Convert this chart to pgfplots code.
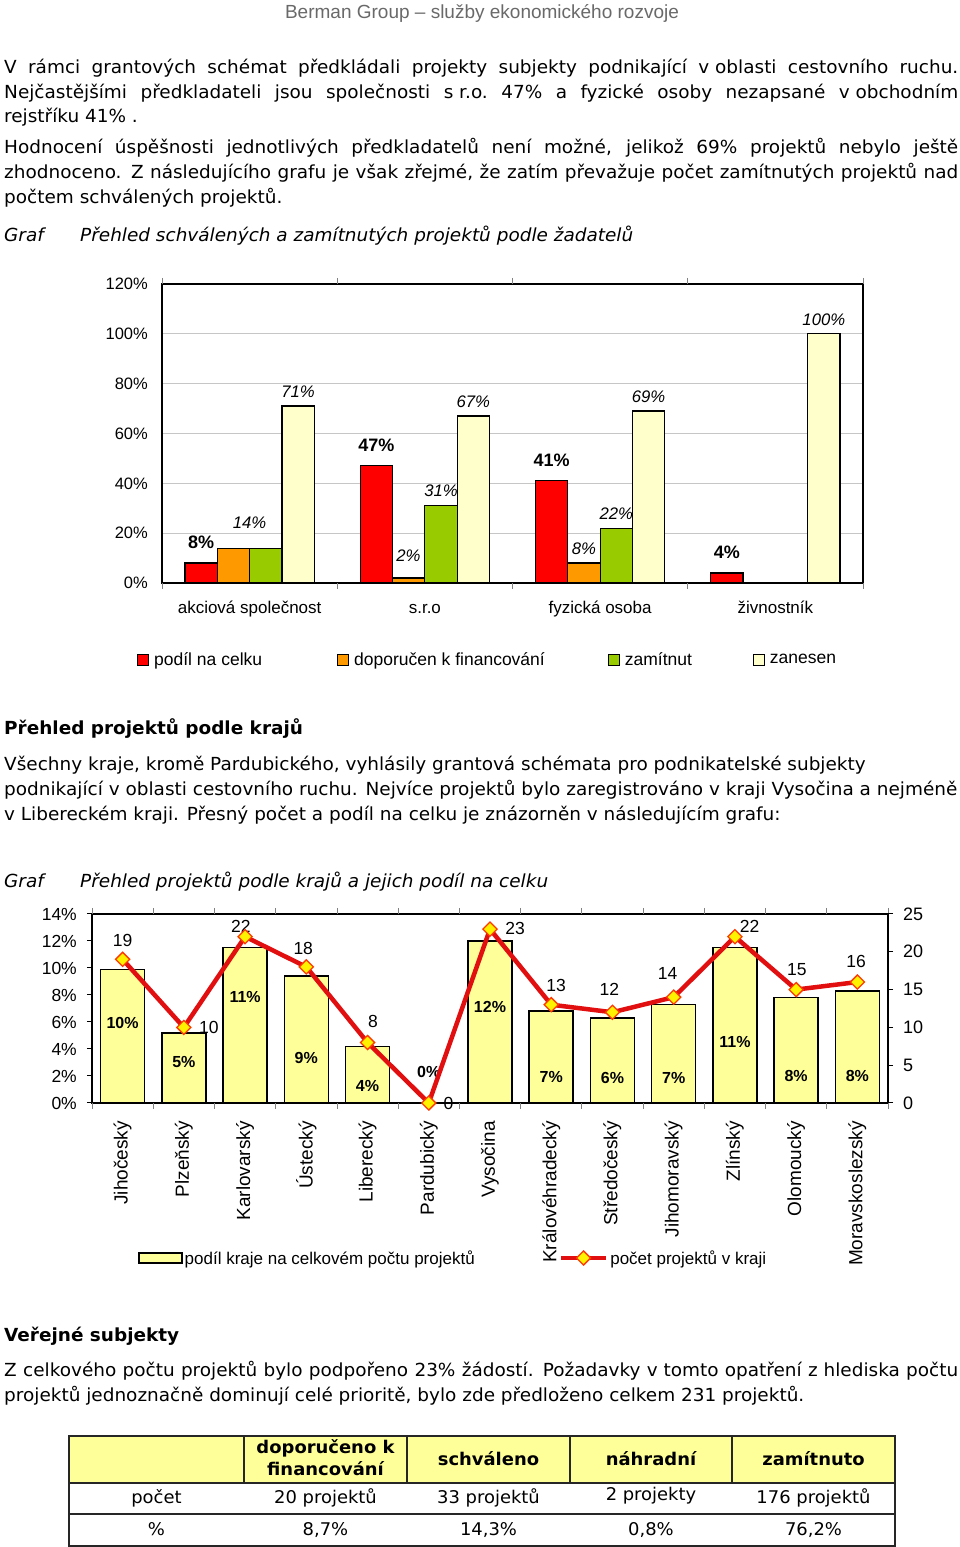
\documentclass[border=0pt]{standalone}
\usepackage{fontspec}
\setmainfont{DejaVu Sans}[FakeStretch=1.025]
\newfontfamily\arial{Liberation Sans}
\usepackage{pgfplots}
\pgfplotsset{compat=1.18}

\definecolor{cred}{RGB}{255,0,0}
\definecolor{corange}{RGB}{255,153,0}
\definecolor{cgreen}{RGB}{153,204,0}
\definecolor{ccream}{RGB}{255,255,204}
\definecolor{cyell}{RGB}{255,255,153}
\definecolor{cline}{RGB}{225,15,15}
\definecolor{hdrgray}{RGB}{105,105,105}

\newcommand\bodyfont{\fontsize{18}{25}\selectfont}
\newcommand\af[1]{\arial\fontsize{#1}{#1}\selectfont}

\pgfplotsset{
  sqleg/.style={legend image code/.code={\draw[##1, line width=1pt] (0pt,-5.5pt) rectangle (11pt,5.5pt);}},
  lineleg/.style={legend image code/.code={\draw[mark repeat=2, mark phase=2, ##1] plot coordinates {(0pt,0pt) (22.5pt,0pt) (45pt,0pt)};}},
  barleg/.style={legend image code/.code={\draw[fill=cyell, draw=black, line width=1.5pt] (0pt,-5pt) rectangle (43pt,5pt);}},
}

\begin{document}
\begin{tikzpicture}[x=1pt,y=1pt]
\path[use as bounding box] (0,0) rectangle (960,1547);
\tikzset{bl/.style={anchor=base west, inner sep=0pt, font=\bodyfont}}

% page header
\node[anchor=base, inner sep=0pt, text=hdrgray, font=\af{19}] at (482,1528) {Berman Group – služby ekonomického rozvoje};

% first text block
\node[bl] at (4,1473) {\makebox[954pt][s]{V rámci grantových schémat předkládali projekty subjekty podnikající \mbox{v oblasti} cestovního ruchu.}};
\node[bl] at (4,1448) {\makebox[954pt][s]{Nejčastějšími předkladateli jsou společnosti \mbox{s r.o.} 47\% a fyzické osoby nezapsané \mbox{v obchodním}}};
\node[bl] at (4,1424) {rejstříku 41\% .};
\node[bl] at (4,1393) {\makebox[954pt][s]{Hodnocení úspěšnosti jednotlivých předkladatelů není možné, jelikož 69\% projektů nebylo ještě}};
\node[bl] at (4,1368) {\makebox[954pt][s]{zhodnoceno. Z následujícího grafu je však zřejmé, že zatím převažuje počet zamítnutých projektů nad}};
\node[bl] at (4,1343) {počtem schválených projektů.};
\node[bl, font=\bodyfont\itshape] at (4,1305) {Graf};
\node[bl, font=\bodyfont\itshape] at (80,1305) {Přehled schválených a zamítnutých projektů podle žadatelů};

% chart 1
\begin{axis}[
  at={(162pt,964pt)}, anchor=south west, scale only axis,
  width=701pt, height=299pt,
  ybar=0pt, bar width=32.3pt,
  xmin=-0.5, xmax=3.5, ymin=0, ymax=120,
  xtick={0,1,2,3},
  xticklabels={akciová společnost,s.r.o,fyzická osoba,živnostník},
  xtick style={draw=none},
  xticklabel style={font=\af{17}, anchor=base, inner sep=0pt},
  xticklabel shift=26pt,
  extra x ticks={-0.5,0.5,1.5,2.5,3.5},
  extra x tick labels={},
  extra x tick style={grid=none, tick align=outside, major tick length=6pt, xtick style={draw=gray, line width=0.8pt}},
  ytick={0,20,...,120},
  yticklabels={0\%,20\%,40\%,60\%,80\%,100\%,120\%},
  yticklabel style={font=\af{16.5}, inner sep=0pt},
  yticklabel shift=14pt,
  ytick style={draw=none},
  ymajorgrids, grid style={draw=gray!45, line width=0.8pt},
  axis line style={line width=1.6pt},
  clip=false,
  point meta=explicit symbolic,
  nodes near coords,
  legend columns=4,
  legend style={at={(-0.0357,-0.2575)}, anchor=west, draw=none, fill=none, inner sep=0pt,
    font=\af{17.5},
    /tikz/every odd column/.append style={column sep=3pt},
    /tikz/column 2/.style={column sep=73pt},
    /tikz/column 4/.style={column sep=61pt},
    /tikz/column 6/.style={column sep=59pt}},
]
\addplot[fill=cred, draw=black, line width=1.2pt, sqleg,
  every node near coord/.append style={font=\af{18}\bfseries, inner sep=0pt, yshift=14pt}]
  coordinates {(0,8) [8\%] (1,47) [47\%] (2,41) [41\%] (3,4) [4\%]};
\addlegendentry{podíl na celku}
\addplot[fill=corange, draw=black, line width=1.2pt, sqleg,
  every node near coord/.append style={font=\af{16.7}\itshape, inner sep=0pt, yshift=8pt}]
  coordinates {(0,14) [\phantom{0}] (1,2) [\phantom{0}] (2,8) [8\%]};
\addlegendentry{doporučen k financování}
\addplot[fill=cgreen, draw=black, line width=1.2pt, sqleg,
  every node near coord/.append style={font=\af{16.7}\itshape, inner sep=0pt, yshift=8pt}]
  coordinates {(0,14) [\phantom{0}] (1,31) [31\%] (2,22) [22\%]};
\addlegendentry{zamítnut}
\addplot[fill=ccream, draw=black, line width=1.2pt, sqleg,
  every node near coord/.append style={font=\af{16.7}\itshape, inner sep=0pt, yshift=8pt}]
  coordinates {(0,71) [71\%] (1,67) [67\%] (2,69) [69\%] (3,100) [100\%]};
\addlegendentry{zanesen}
\node[font=\af{16.7}\itshape, anchor=south, inner sep=0pt, yshift=19pt] at (axis cs:0,14) {14\%};
\node[font=\af{16.7}\itshape, anchor=south, inner sep=0pt, yshift=16pt, xshift=-16.5pt] at (axis cs:1,2) {2\%};
\end{axis}

% second text block
\node[bl, font=\bodyfont\bfseries] at (4,812) {Přehled projektů podle krajů};
\node[bl] at (4,776) {Všechny kraje, kromě Pardubického, vyhlásily grantová schémata pro podnikatelské subjekty};
\node[bl] at (4,751) {podnikající \mbox{v oblasti} cestovního ruchu. Nejvíce projektů bylo zaregistrováno \mbox{v kraji} Vysočina a nejméně};
\node[bl] at (4,726) {\mbox{v Libereckém} kraji. Přesný počet a podíl na celku je znázorněn \mbox{v následujícím} grafu:};
\node[bl, font=\bodyfont\itshape] at (4,659) {Graf};
\node[bl, font=\bodyfont\itshape] at (80,659) {Přehled projektů podle krajů a jejich podíl na celku};

% chart 2, bars (left axis)
\begin{axis}[
  at={(92pt,444pt)}, anchor=south west, scale only axis,
  width=796pt, height=189pt,
  ybar, bar width=44pt,
  xmin=-0.5, xmax=12.5, ymin=0, ymax=14,
  xtick={0,...,12},
  xticklabels={Jihočeský,Plzeňský,Karlovarský,Ústecký,Liberecký,Pardubický,Vysočina,Královéhradecký,Středočeský,Jihomoravský,Zlínský,Olomoucký,Moravskoslezský},
  xtick style={draw=none},
  xticklabel style={font=\af{19}, rotate=90, anchor=east, inner sep=0pt},
  xticklabel shift=13pt,
  extra x ticks={-0.5,0.5,...,12.5},
  extra x tick labels={},
  extra x tick style={tick align=outside, major tick length=6pt, xtick style={draw=gray, line width=0.8pt}},
  ytick={0,2,...,14},
  yticklabels={0\%,2\%,4\%,6\%,8\%,10\%,12\%,14\%},
  ytick pos=left,
  yticklabel style={font=\af{17.5}, inner sep=0pt},
  yticklabel shift=10pt,
  ytick style={draw=black, line width=1pt},
  tick align=outside, major tick length=5pt,
  axis line style={line width=1.5pt},
  clip=false,
]
\addplot[fill=cyell, draw=black, line width=1.5pt]
  coordinates {(0,9.9) (1,5.2) (2,11.5) (3,9.4) (4,4.2) (6,12.0) (7,6.8) (8,6.3) (9,7.3) (10,11.5) (11,7.8) (12,8.3)};
\begin{scope}[font=\af{16}\bfseries]
\node at (axis cs:0,5.95) {10\%};
\node at (axis cs:1,3.06) {5\%};
\node at (axis cs:2,7.87) {11\%};
\node at (axis cs:3,3.33) {9\%};
\node at (axis cs:4,1.26) {4\%};
\node at (axis cs:5,2.32) {0\%};
\node at (axis cs:6,7.13) {12\%};
\node at (axis cs:7,1.95) {7\%};
\node at (axis cs:8,1.85) {6\%};
\node at (axis cs:9,1.87) {7\%};
\node at (axis cs:10,4.54) {11\%};
\node at (axis cs:11,2.0) {8\%};
\node at (axis cs:12,2.0) {8\%};
\end{scope}
\end{axis}

% chart 2, line (right axis)
\begin{axis}[
  at={(92pt,444pt)}, anchor=south west, scale only axis,
  width=796pt, height=189pt,
  xmin=-0.5, xmax=12.5, ymin=0, ymax=25,
  axis x line=none, axis y line*=right,
  ytick={0,5,...,25},
  yticklabels={0,5,10,15,20,25},
  yticklabel style={font=\af{18}, inner sep=0pt},
  yticklabel shift=10pt,
  ytick style={draw=black, line width=1pt},
  tick align=outside, major tick length=5pt,
  axis line style={line width=1.5pt},
  clip=false,
  legend columns=2,
  legend style={at={(0.0578,-0.82)}, anchor=west, draw=none, fill=none, inner sep=0pt,
    font=\af{17}, /tikz/every even column/.append style={column sep=82pt}},
]
\addlegendimage{barleg}
\addlegendentry{podíl kraje na celkovém počtu projektů}
\addplot[draw=cline, line width=4.5pt, mark=square*, mark size=5pt,
  mark options={rotate=45, fill=yellow, draw=orange!45!red, line width=1.3pt}, lineleg]
  coordinates {(0,19) (1,10) (2,22) (3,18) (4,8) (5,0) (6,23) (7,13) (8,12) (9,14) (10,22) (11,15) (12,16)};
\addlegendentry{počet projektů v kraji}
\begin{scope}[font=\af{17.5}]
\node at (axis cs:0,21.56) {19};
\node at (axis cs:1.41,9.96) {10};
\node at (axis cs:1.93,23.3) {22};
\node at (axis cs:2.95,20.5) {18};
\node at (axis cs:4.09,10.75) {8};
\node at (axis cs:5.32,0) {0};
\node at (axis cs:6.41,23.1) {23};
\node at (axis cs:7.08,15.6) {13};
\node at (axis cs:7.95,15.08) {12};
\node at (axis cs:8.9,17.16) {14};
\node at (axis cs:10.24,23.3) {22};
\node at (axis cs:11.01,17.6) {15};
\node at (axis cs:11.98,18.78) {16};
\end{scope}
\end{axis}

% third text block
\node[bl, font=\bodyfont\bfseries] at (4,205) {Veřejné subjekty};
\node[bl] at (4,170) {\makebox[954pt][s]{Z celkového počtu projektů bylo podpořeno 23\% žádostí. Požadavky \mbox{v tomto} opatření \mbox{z hlediska} počtu}};
\node[bl] at (4,145) {projektů jednoznačně dominují celé prioritě, bylo zde předloženo celkem 231 projektů.};

% table
\fill[cyell] (69,64) rectangle (895,111);
\draw[line width=1.2pt, draw=black!85] (69,1) rectangle (895,111);
\draw[line width=1.2pt, draw=black!85] (69,64) -- (895,64) (69,33) -- (895,33);
\foreach \xx in {244,407,570,732} \draw[line width=1.2pt, draw=black!85] (\xx,64) -- (\xx,111);
\begin{scope}[font=\fontsize{17.5}{21}\selectfont, inner sep=0pt, anchor=base]
\node[font=\fontsize{17.5}{21}\selectfont\bfseries] at (325.5,93) {doporučeno k};
\node[font=\fontsize{17.5}{21}\selectfont\bfseries] at (325.5,71) {financování};
\node[font=\fontsize{17.5}{21}\selectfont\bfseries] at (488.5,81) {schváleno};
\node[font=\fontsize{17.5}{21}\selectfont\bfseries] at (651,81) {náhradní};
\node[font=\fontsize{17.5}{21}\selectfont\bfseries] at (813.5,81) {zamítnuto};
\node at (156.5,43) {počet};
\node at (325.5,43) {20 projektů};
\node at (488.5,43) {33 projektů};
\node at (651,46) {2 projekty};
\node at (813.5,43) {176 projektů};
\node at (156.5,11) {\%};
\node at (325.5,11) {8,7\%};
\node at (488.5,11) {14,3\%};
\node at (651,11) {0,8\%};
\node at (813.5,11) {76,2\%};
\end{scope}
\end{tikzpicture}
\end{document}
